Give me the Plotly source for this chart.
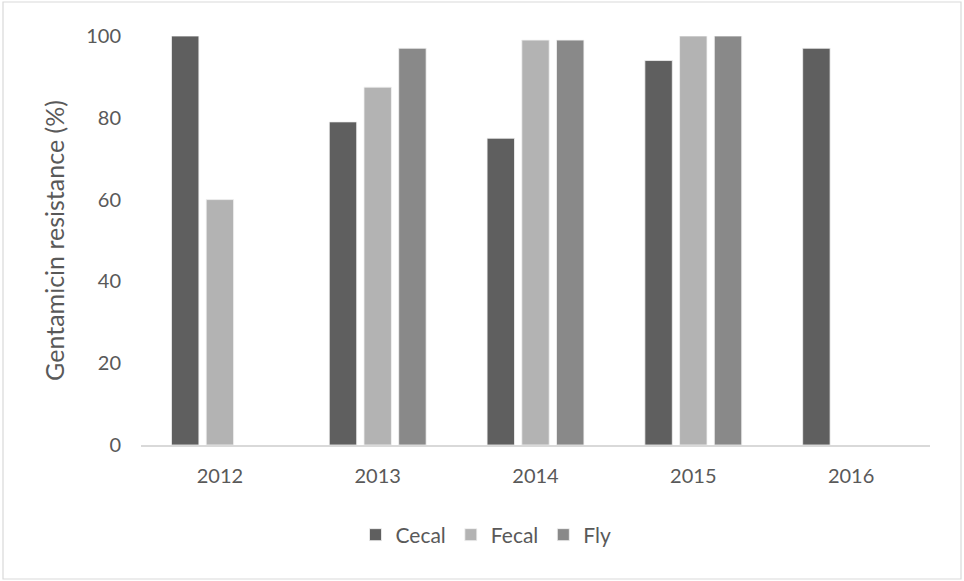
import plotly.graph_objects as go

years = ["2012", "2013", "2014", "2015", "2016"]
cecal = [100, 79, 75, 94, 97]
fecal = [60, 87.5, 99, 100, None]
fly = [None, 97, 99, 100, None]
series_names = ["Cecal", "Fecal", "Fly"]
series_colors = ["#5f5f5f", "#b3b3b3", "#898989"]
y_ticks = [0, 20, 40, 60, 80, 100]

W, H = 964, 581
L, R, T, B = 141, 34, 36, 136
pw, ph = W - L - R, H - T - B

fig = go.Figure()
for name, vals, col in zip(series_names, [cecal, fecal, fly], series_colors):
    fig.add_trace(go.Bar(
        x=years, y=vals, name=name,
        marker=dict(color=col, line=dict(color="#f2f2f2", width=0.8)),
    ))

font_family = "Lato, Liberation Sans, Arial, sans-serif"
text_color = "#595959"

def px_x(px):
    return (px - L) / pw

def px_y(py):
    return (H - B - py) / ph

fig.update_layout(
    width=W, height=H,
    margin=dict(l=L, r=R, t=T, b=B, autoexpand=False),
    paper_bgcolor="white", plot_bgcolor="white",
    barmode="group", bargap=0.34, bargroupgap=0.21,
    font=dict(family=font_family, size=20, color=text_color),
    showlegend=True,
    legend=dict(orientation="h", x=px_x(486), xanchor="center",
                y=px_y(535), yanchor="middle",
                font=dict(size=21, color=text_color),
                itemwidth=30, traceorder="normal"),
    xaxis=dict(showgrid=False, showline=True, linecolor="#d9d9d9", linewidth=1.5,
               ticks="", tickfont=dict(size=20, color=text_color),
               ticklabelstandoff=12, fixedrange=True),
    yaxis=dict(range=[0, 100], tickvals=y_ticks, showgrid=False, showline=False,
               zeroline=False, ticks="", tickfont=dict(size=20, color=text_color),
               ticklabelstandoff=19,
               title=dict(text="Gentamicin resistance (%)", font=dict(size=25, color=text_color),
                          standoff=14)),
    shapes=[dict(type="rect", xref="paper", yref="paper",
                 x0=px_x(3), x1=px_x(961), y0=px_y(579), y1=px_y(2),
                 line=dict(color="#d9d9d9", width=1.2), fillcolor="rgba(0,0,0,0)",
                 layer="below")],
)

fig.write_html("out.html")
